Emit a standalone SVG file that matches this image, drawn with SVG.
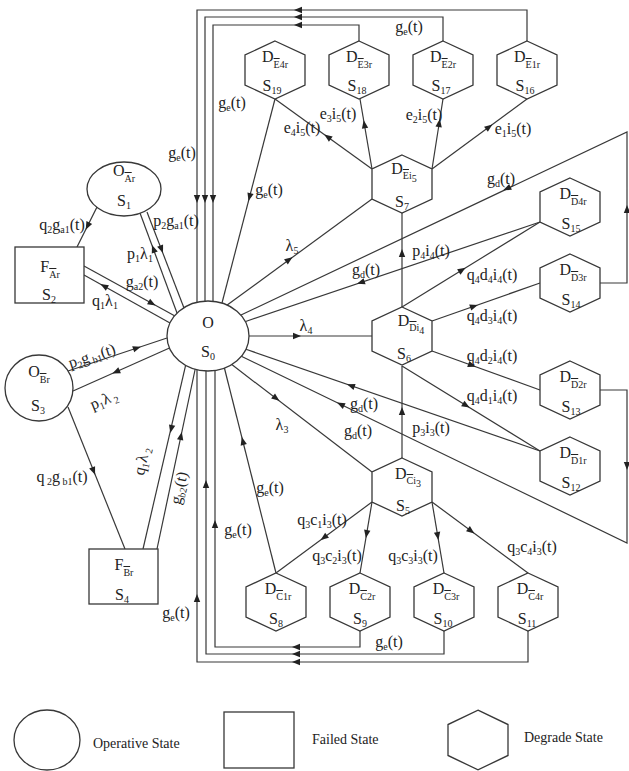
<svg xmlns="http://www.w3.org/2000/svg" xmlns:xlink="http://www.w3.org/1999/xlink" width="629" height="771" viewBox="0 0 629 771">
<style>
.ln{fill:none;stroke:#383838;stroke-width:1.2}
.nd{fill:#fff;stroke:#383838;stroke-width:1.3}
.l{font-family:"Liberation Serif","Times New Roman",serif;font-size:16px;fill:#222}
.c{text-anchor:middle}
.s{font-size:10px}
.ov{text-decoration:overline}
.lg{font-family:"Liberation Serif","Times New Roman",serif;font-size:14px;fill:#222}
</style>
<defs>
<path id="ah" d="M0,0 L-8,-3.2 L-8,3.2 Z" fill="#222"/>
<path id="hex" d="M0,-29 L30,-15 L30,15 L0,29 L-30,15 L-30,-15 Z"/>
</defs>
<rect width="629" height="771" fill="#fff"/>

<g id="connectors">
<path class="ln" d="M140,213 L177,313"/>
<path class="ln" d="M147,212 L184,308"/>
<path class="ln" d="M97,207 L77,247"/>
<path class="ln" d="M84,266 L174.5,315.8"/>
<path class="ln" d="M84,275 L170,323"/>
<path class="ln" d="M68,371 L167,338"/>
<path class="ln" d="M73,391 L169.5,348"/>
<path class="ln" d="M68,407 L125,549"/>
<path class="ln" d="M143,549 L185.6,365.3"/>
<path class="ln" d="M157,549 L195.2,369"/>
<path class="ln" d="M527,41 V10 H197 V302.3"/>
<path class="ln" d="M443,41 V17 H205 V301.1"/>
<path class="ln" d="M359,41 V25 H213 V301.3"/>
<path class="ln" d="M360,631 V647 H215 V370.5"/>
<path class="ln" d="M444,631 V654 H206 V371"/>
<path class="ln" d="M528,631 V662 H197 V369.7"/>
<path class="ln" d="M275,99 L222,303"/>
<path class="ln" d="M276,573 L224.4,368"/>
<path class="ln" d="M227.2,305.1 L372,199"/>
<path class="ln" d="M600,283 H627 V132 L241,315"/>
<path class="ln" d="M540,222 L245.6,321.5"/>
<path class="ln" d="M249,336 H372"/>
<path class="ln" d="M540,451 L246,349.3"/>
<path class="ln" d="M600,390 H627 V543 L241.3,356.2"/>
<path class="ln" d="M231.8,364.6 L372,472"/>
<path class="ln" d="M402,307 V213"/>
<path class="ln" d="M402,458 V366"/>
<path class="ln" d="M372,169 L275,99"/>
<path class="ln" d="M372,169 L360,99"/>
<path class="ln" d="M432,169 L443,99"/>
<path class="ln" d="M432,169 L527,99"/>
<path class="ln" d="M402,307 L540,222"/>
<path class="ln" d="M432,321 L540,283"/>
<path class="ln" d="M432,351 L540,390"/>
<path class="ln" d="M402,366 L540,451"/>
<path class="ln" d="M372,502 L276,573"/>
<path class="ln" d="M372,502 L360,573"/>
<path class="ln" d="M432,502 L444,573"/>
<path class="ln" d="M432,502 L528,573"/>

<use xlink:href="#ah" transform="translate(152,245) rotate(-110.4)"/>
<use xlink:href="#ah" transform="translate(163,253) rotate(68.8)"/>
<use xlink:href="#ah" transform="translate(85.7,229.7) rotate(116.6)"/>
<use xlink:href="#ah" transform="translate(155.6,305.4) rotate(28.8)"/>
<use xlink:href="#ah" transform="translate(100.4,284.1) rotate(-150.8)"/>
<use xlink:href="#ah" transform="translate(140.8,346.8) rotate(-18.4)"/>
<use xlink:href="#ah" transform="translate(112.3,373.5) rotate(156)"/>
<use xlink:href="#ah" transform="translate(95.1,474.8) rotate(68.1)"/>
<use xlink:href="#ah" transform="translate(170.3,432.9) rotate(103.1)"/>
<use xlink:href="#ah" transform="translate(181.8,432.1) rotate(-78)"/>
<use xlink:href="#ah" transform="translate(294,10) rotate(180)"/>
<use xlink:href="#ah" transform="translate(294,17) rotate(180)"/>
<use xlink:href="#ah" transform="translate(294,25) rotate(180)"/>
<use xlink:href="#ah" transform="translate(197,203) rotate(90)"/>
<use xlink:href="#ah" transform="translate(205,203) rotate(90)"/>
<use xlink:href="#ah" transform="translate(213,203) rotate(90)"/>
<use xlink:href="#ah" transform="translate(292,647) rotate(180)"/>
<use xlink:href="#ah" transform="translate(292,654) rotate(180)"/>
<use xlink:href="#ah" transform="translate(292,662) rotate(180)"/>
<use xlink:href="#ah" transform="translate(215,520) rotate(-90)"/>
<use xlink:href="#ah" transform="translate(206,480) rotate(-90)"/>
<use xlink:href="#ah" transform="translate(197,594) rotate(-90)"/>
<use xlink:href="#ah" transform="translate(248.5,201) rotate(104.6)"/>
<use xlink:href="#ah" transform="translate(241.8,437.1) rotate(-104.1)"/>
<use xlink:href="#ah" transform="translate(292.4,257.2) rotate(-36.2)"/>
<use xlink:href="#ah" transform="translate(503.3,190.3) rotate(154.7)"/>
<use xlink:href="#ah" transform="translate(627,205) rotate(-90)"/>
<use xlink:href="#ah" transform="translate(357,283.8) rotate(161.3)"/>
<use xlink:href="#ah" transform="translate(301,336) rotate(0)"/>
<use xlink:href="#ah" transform="translate(347,384.3) rotate(-160.9)"/>
<use xlink:href="#ah" transform="translate(627,470) rotate(90)"/>
<use xlink:href="#ah" transform="translate(337,402.6) rotate(-154.2)"/>
<use xlink:href="#ah" transform="translate(279.4,400.8) rotate(37.5)"/>
<use xlink:href="#ah" transform="translate(402,249) rotate(-90)"/>
<use xlink:href="#ah" transform="translate(402,407) rotate(-90)"/>
<use xlink:href="#ah" transform="translate(324.3,134.5) rotate(-144.2)"/>
<use xlink:href="#ah" transform="translate(363.7,120.3) rotate(-99.7)"/>
<use xlink:href="#ah" transform="translate(439.9,119) rotate(-81)"/>
<use xlink:href="#ah" transform="translate(492.4,124.5) rotate(-36.4)"/>
<use xlink:href="#ah" transform="translate(465.6,267.8) rotate(-31.6)"/>
<use xlink:href="#ah" transform="translate(477.8,304.9) rotate(-19.4)"/>
<use xlink:href="#ah" transform="translate(475.8,366.8) rotate(19.9)"/>
<use xlink:href="#ah" transform="translate(469.6,407.6) rotate(31.6)"/>
<use xlink:href="#ah" transform="translate(320.6,540) rotate(143.5)"/>
<use xlink:href="#ah" transform="translate(365.9,538) rotate(99.6)"/>
<use xlink:href="#ah" transform="translate(438.4,540) rotate(80.4)"/>
<use xlink:href="#ah" transform="translate(474.4,533.4) rotate(36.5)"/>
</g>

<g id="labels" class="l">
<text class="c" x="409" y="32">g<tspan class="s" dy="3">e</tspan><tspan dy="-3">(t)</tspan></text>
<text class="c" x="182" y="158">g<tspan class="s" dy="3">e</tspan><tspan dy="-3">(t)</tspan></text>
<text class="c" x="232" y="108">g<tspan class="s" dy="3">e</tspan><tspan dy="-3">(t)</tspan></text>
<text class="c" x="269" y="195">g<tspan class="s" dy="3">e</tspan><tspan dy="-3">(t)</tspan></text>
<text class="c" x="302" y="133">e<tspan class="s" dy="3">4</tspan><tspan dy="-3">i</tspan><tspan class="s" dy="3">5</tspan><tspan dy="-3">(t)</tspan></text>
<text class="c" x="338" y="119">e<tspan class="s" dy="3">3</tspan><tspan dy="-3">i</tspan><tspan class="s" dy="3">5</tspan><tspan dy="-3">(t)</tspan></text>
<text class="c" x="424" y="120">e<tspan class="s" dy="3">2</tspan><tspan dy="-3">i</tspan><tspan class="s" dy="3">5</tspan><tspan dy="-3">(t)</tspan></text>
<text class="c" x="513" y="134">e<tspan class="s" dy="3">1</tspan><tspan dy="-3">i</tspan><tspan class="s" dy="3">5</tspan><tspan dy="-3">(t)</tspan></text>
<text class="c" x="501" y="184">g<tspan class="s" dy="3">d</tspan><tspan dy="-3">(t)</tspan></text>
<text class="c" x="292" y="251">λ<tspan class="s" dy="3">5</tspan></text>
<text class="c" x="431" y="256">p<tspan class="s" dy="3">4</tspan><tspan dy="-3">i</tspan><tspan class="s" dy="3">4</tspan><tspan dy="-3">(t)</tspan></text>
<text class="c" x="366" y="275">g<tspan class="s" dy="3">d</tspan><tspan dy="-3">(t)</tspan></text>
<text class="c" x="492" y="280">q<tspan class="s" dy="3">4</tspan><tspan dy="-3">d</tspan><tspan class="s" dy="3">4</tspan><tspan dy="-3">i</tspan><tspan class="s" dy="3">4</tspan><tspan dy="-3">(t)</tspan></text>
<text class="c" x="492" y="321">q<tspan class="s" dy="3">4</tspan><tspan dy="-3">d</tspan><tspan class="s" dy="3">3</tspan><tspan dy="-3">i</tspan><tspan class="s" dy="3">4</tspan><tspan dy="-3">(t)</tspan></text>
<text class="c" x="306" y="331">λ<tspan class="s" dy="3">4</tspan></text>
<text class="c" x="492" y="361">q<tspan class="s" dy="3">4</tspan><tspan dy="-3">d</tspan><tspan class="s" dy="3">2</tspan><tspan dy="-3">i</tspan><tspan class="s" dy="3">4</tspan><tspan dy="-3">(t)</tspan></text>
<text class="c" x="492" y="401">q<tspan class="s" dy="3">4</tspan><tspan dy="-3">d</tspan><tspan class="s" dy="3">1</tspan><tspan dy="-3">i</tspan><tspan class="s" dy="3">4</tspan><tspan dy="-3">(t)</tspan></text>
<text class="c" x="364" y="409">g<tspan class="s" dy="3">d</tspan><tspan dy="-3">(t)</tspan></text>
<text class="c" x="431" y="433">p<tspan class="s" dy="3">3</tspan><tspan dy="-3">i</tspan><tspan class="s" dy="3">3</tspan><tspan dy="-3">(t)</tspan></text>
<text class="c" x="358" y="436">g<tspan class="s" dy="3">d</tspan><tspan dy="-3">(t)</tspan></text>
<text class="c" x="282" y="430">λ<tspan class="s" dy="3">3</tspan></text>
<text class="c" x="270" y="493">g<tspan class="s" dy="3">e</tspan><tspan dy="-3">(t)</tspan></text>
<text class="c" x="322" y="525">q<tspan class="s" dy="3">3</tspan><tspan dy="-3">c</tspan><tspan class="s" dy="3">1</tspan><tspan dy="-3">i</tspan><tspan class="s" dy="3">3</tspan><tspan dy="-3">(t)</tspan></text>
<text class="c" x="238" y="535">g<tspan class="s" dy="3">e</tspan><tspan dy="-3">(t)</tspan></text>
<text class="c" x="337" y="561">q<tspan class="s" dy="3">3</tspan><tspan dy="-3">c</tspan><tspan class="s" dy="3">2</tspan><tspan dy="-3">i</tspan><tspan class="s" dy="3">3</tspan><tspan dy="-3">(t)</tspan></text>
<text class="c" x="413" y="561">q<tspan class="s" dy="3">3</tspan><tspan dy="-3">c</tspan><tspan class="s" dy="3">3</tspan><tspan dy="-3">i</tspan><tspan class="s" dy="3">3</tspan><tspan dy="-3">(t)</tspan></text>
<text class="c" x="532" y="552">q<tspan class="s" dy="3">3</tspan><tspan dy="-3">c</tspan><tspan class="s" dy="3">4</tspan><tspan dy="-3">i</tspan><tspan class="s" dy="3">3</tspan><tspan dy="-3">(t)</tspan></text>
<text class="c" x="389" y="647">g<tspan class="s" dy="3">e</tspan><tspan dy="-3">(t)</tspan></text>
<text class="c" x="176" y="618">g<tspan class="s" dy="3">e</tspan><tspan dy="-3">(t)</tspan></text>
<text class="c" x="62" y="230">q<tspan class="s" dy="3">2</tspan><tspan dy="-3">g</tspan><tspan class="s" dy="3">a1</tspan><tspan dy="-3">(t)</tspan></text>
<text class="c" x="176" y="226">p<tspan class="s" dy="3">2</tspan><tspan dy="-3">g</tspan><tspan class="s" dy="3">a1</tspan><tspan dy="-3">(t)</tspan></text>
<text class="c" x="140" y="259">p<tspan class="s" dy="3">1</tspan><tspan dy="-3">λ</tspan><tspan class="s" dy="3">1</tspan></text>
<text class="c" x="142" y="287">g<tspan class="s" dy="3">a2</tspan><tspan dy="-3">(t)</tspan></text>
<text class="c" x="105" y="306">q<tspan class="s" dy="3">1</tspan><tspan dy="-3">λ</tspan><tspan class="s" dy="3">1</tspan></text>
<text class="c" x="92" y="361" transform="rotate(-18 92 356)">p<tspan class="s" dy="3">2</tspan><tspan dy="-3">g</tspan><tspan class="s" dy="3"> b1</tspan><tspan dy="-3">(t)</tspan></text>
<text class="c" x="104" y="405" transform="rotate(-22 104 400)">p<tspan class="s" dy="3">1</tspan><tspan dy="-3">λ</tspan><tspan class="s" dy="3"> 2</tspan></text>
<text class="c" x="62" y="482">q<tspan class="s" dy="3"> 2</tspan><tspan dy="-3">g</tspan><tspan class="s" dy="3"> b1</tspan><tspan dy="-3">(t)</tspan></text>
<text class="c" x="142" y="466" transform="rotate(-77 142 461)">q<tspan class="s" dy="3">1</tspan><tspan dy="-3">λ</tspan><tspan class="s" dy="3"> 2</tspan></text>
<text class="c" x="179" y="493" transform="rotate(-77 179 488)">g<tspan class="s" dy="3">b2</tspan><tspan dy="-3">(t)</tspan></text>
</g>

<g id="S0"><ellipse class="nd" cx="208" cy="336" rx="41" ry="35"/><text class="l c" x="208" y="328">O</text><text class="l c" x="208" y="357">S<tspan class="s" dy="3">0</tspan></text></g>
<g id="S1"><ellipse class="nd" cx="124" cy="189" rx="37" ry="27"/><text class="l c" x="124" y="176">O<tspan class="s" dy="6"><tspan class="ov">A</tspan>r</tspan></text><text class="l c" x="124" y="206">S<tspan class="s" dy="3">1</tspan></text></g>
<g id="S2"><rect class="nd" x="15" y="247" width="69" height="56"/><text class="l c" x="50" y="272">F<tspan class="s" dy="6"><tspan class="ov">A</tspan>r</tspan></text><text class="l c" x="49" y="300">S<tspan class="s" dy="3">2</tspan></text></g>
<g id="S3"><ellipse class="nd" cx="39" cy="388" rx="34" ry="33"/><text class="l c" x="39" y="377">O<tspan class="s" dy="6"><tspan class="ov">B</tspan>r</tspan></text><text class="l c" x="38" y="411">S<tspan class="s" dy="3">3</tspan></text></g>
<g id="S4"><rect class="nd" x="89" y="549" width="69" height="55"/><text class="l c" x="124" y="570">F<tspan class="s" dy="6"><tspan class="ov">B</tspan>r</tspan></text><text class="l c" x="122" y="600">S<tspan class="s" dy="3">4</tspan></text></g>

<g id="S19"><use xlink:href="#hex" class="nd" transform="translate(275,70)"/><text class="l c" x="275" y="62">D<tspan class="s" dy="6"><tspan class="ov">E</tspan>4r</tspan></text><text class="l c" x="272" y="91">S<tspan class="s" dy="3">19</tspan></text></g>
<g id="S18"><use xlink:href="#hex" class="nd" transform="translate(359,70)"/><text class="l c" x="359" y="62">D<tspan class="s" dy="6"><tspan class="ov">E</tspan>3r</tspan></text><text class="l c" x="357" y="91">S<tspan class="s" dy="3">18</tspan></text></g>
<g id="S17"><use xlink:href="#hex" class="nd" transform="translate(443,70)"/><text class="l c" x="443" y="62">D<tspan class="s" dy="6"><tspan class="ov">E</tspan>2r</tspan></text><text class="l c" x="441" y="91">S<tspan class="s" dy="3">17</tspan></text></g>
<g id="S16"><use xlink:href="#hex" class="nd" transform="translate(527,70)"/><text class="l c" x="527" y="62">D<tspan class="s" dy="6"><tspan class="ov">E</tspan>1r</tspan></text><text class="l c" x="525" y="91">S<tspan class="s" dy="3">16</tspan></text></g>
<g id="S7"><use xlink:href="#hex" class="nd" transform="translate(402,184)"/><text class="l c" x="404" y="174">D<tspan class="s" dy="5"><tspan class="ov">E</tspan>i<tspan dy="3">5</tspan></tspan></text><text class="l c" x="402" y="207">S<tspan class="s" dy="3">7</tspan></text></g>
<g id="S15"><use xlink:href="#hex" class="nd" transform="translate(570,207)"/><text class="l c" x="573" y="199">D<tspan class="s" dy="6"><tspan class="ov">D</tspan>4r</tspan></text><text class="l c" x="571" y="229">S<tspan class="s" dy="3">15</tspan></text></g>
<g id="S14"><use xlink:href="#hex" class="nd" transform="translate(570,283)"/><text class="l c" x="573" y="275">D<tspan class="s" dy="6"><tspan class="ov">D</tspan>3r</tspan></text><text class="l c" x="571" y="305">S<tspan class="s" dy="3">14</tspan></text></g>
<g id="S6"><use xlink:href="#hex" class="nd" transform="translate(402,336)"/><text class="l c" x="411" y="326">D<tspan class="s" dy="5"><tspan class="ov">D</tspan>i<tspan dy="3">4</tspan></tspan></text><text class="l c" x="404" y="359">S<tspan class="s" dy="3">6</tspan></text></g>
<g id="S13"><use xlink:href="#hex" class="nd" transform="translate(570,390)"/><text class="l c" x="573" y="382">D<tspan class="s" dy="6"><tspan class="ov">D</tspan>2r</tspan></text><text class="l c" x="571" y="412">S<tspan class="s" dy="3">13</tspan></text></g>
<g id="S12"><use xlink:href="#hex" class="nd" transform="translate(570,466)"/><text class="l c" x="573" y="458">D<tspan class="s" dy="6"><tspan class="ov">D</tspan>1r</tspan></text><text class="l c" x="571" y="488">S<tspan class="s" dy="3">12</tspan></text></g>
<g id="S5"><use xlink:href="#hex" class="nd" transform="translate(402,487)"/><text class="l c" x="408" y="479">D<tspan class="s" dy="5"><tspan class="ov">C</tspan>i<tspan dy="3">3</tspan></tspan></text><text class="l c" x="403" y="511">S<tspan class="s" dy="3">5</tspan></text></g>
<g id="S8"><use xlink:href="#hex" class="nd" transform="translate(276,602)"/><text class="l c" x="278" y="594">D<tspan class="s" dy="6"><tspan class="ov">C</tspan>1r</tspan></text><text class="l c" x="276" y="624">S<tspan class="s" dy="3">8</tspan></text></g>
<g id="S9"><use xlink:href="#hex" class="nd" transform="translate(360,602)"/><text class="l c" x="362" y="594">D<tspan class="s" dy="6"><tspan class="ov">C</tspan>2r</tspan></text><text class="l c" x="360" y="624">S<tspan class="s" dy="3">9</tspan></text></g>
<g id="S10"><use xlink:href="#hex" class="nd" transform="translate(444,602)"/><text class="l c" x="446" y="594">D<tspan class="s" dy="6"><tspan class="ov">C</tspan>3r</tspan></text><text class="l c" x="443" y="624">S<tspan class="s" dy="3">10</tspan></text></g>
<g id="S11"><use xlink:href="#hex" class="nd" transform="translate(528,602)"/><text class="l c" x="530" y="594">D<tspan class="s" dy="6"><tspan class="ov">C</tspan>4r</tspan></text><text class="l c" x="527" y="624">S<tspan class="s" dy="3">11</tspan></text></g>

<g id="legend">
<ellipse class="nd" cx="47" cy="740" rx="33" ry="30"/>
<text class="lg" x="93" y="748">Operative State</text>
<rect class="nd" x="224" y="712" width="70" height="56"/>
<text class="lg" x="312" y="744">Failed State</text>
<use xlink:href="#hex" class="nd" transform="translate(478,740) scale(1,1.03)"/>
<text class="lg" x="524" y="742">Degrade State</text>
</g>
</svg>
